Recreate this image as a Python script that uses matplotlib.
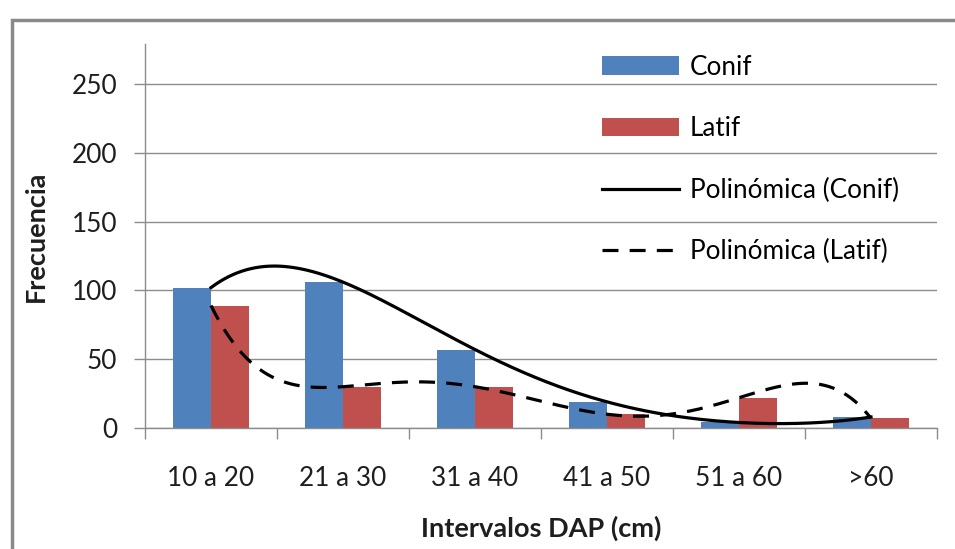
import matplotlib

matplotlib.use("Agg")
import matplotlib.pyplot as plt
import numpy as np
from matplotlib.patches import Rectangle

plt.rcParams["font.family"] = ["Lato", "DejaVu Sans"]

# Frequencies per DBH class.
categories = ["10 a 20", "21 a 30", "31 a 40", "41 a 50", "51 a 60", ">60"]
conif = [102, 106, 57, 19, 4, 8]
latif = [89, 30, 30, 10, 22, 7]

BLUE = "#4F81BD"
RED = "#C0504D"
GRID = "#8C8C8C"
INK = "#1E1E1E"
FS = 18.8

W, H = 955, 549
fig = plt.figure(figsize=(W / 100, H / 100), dpi=100)

# plot area in pixel terms: x 145..937, y 44..428
ax = fig.add_axes([145 / W, (H - 428) / H, (937 - 145) / W, (428 - 44) / H])

x = np.arange(1, len(categories) + 1)
bw = 0.285
b1 = ax.bar(x - bw / 2, conif, bw, color=BLUE, label="Conif", zorder=2)
b2 = ax.bar(x + bw / 2, latif, bw, color=RED, label="Latif", zorder=2)

# Excel's polynomial trendlines (order 5, so they run through every point)
xs = np.linspace(1, len(categories), 300)
fit_c = np.polyval(np.polyfit(x, conif, 5), xs)
fit_l = np.polyval(np.polyfit(x, latif, 5), xs)
l1, = ax.plot(xs, fit_c, color="black", lw=2.3, zorder=3)
l2, = ax.plot(xs, fit_l, color="black", lw=2.3, dashes=(5, 3.5), zorder=3)

ax.set_xlim(0.5, len(categories) + 0.5)
ax.set_ylim(0, 279)
ax.set_yticks(range(0, 251, 50))
ax.set_xticks(x)
ax.set_xticklabels(categories)
ax.set_xticks(np.arange(0.5, len(categories) + 1), minor=True)
ax.tick_params(axis="x", which="major", length=0, pad=27, labelsize=FS,
               colors=INK)
ax.tick_params(axis="x", which="minor", length=8, width=1, color=GRID)
ax.tick_params(axis="y", length=8, width=1, color=GRID, pad=12,
               labelsize=FS, labelcolor=INK)

ax.grid(axis="y", color=GRID, lw=1, zorder=0)
ax.set_axisbelow(True)
for side in ("top", "right"):
    ax.spines[side].set_visible(False)
for side in ("left", "bottom"):
    ax.spines[side].set_color(GRID)
    ax.spines[side].set_linewidth(1)

ax.set_xlabel("Intervalos DAP (cm)", fontsize=FS + 0.7, fontweight="bold",
              labelpad=18, color=INK)
ax.set_ylabel("Frecuencia", fontsize=FS + 0.7, fontweight="bold",
              labelpad=17, color=INK)

ax.legend([b1, b2, l1, l2],
          ["Conif", "Latif", "Polinómica (Conif)", "Polinómica (Latif)"],
          loc="upper left", bbox_to_anchor=((584 - 145) / (937 - 145), 1.02),
          frameon=False, fontsize=FS, handlelength=2.95, labelspacing=1.4,
          handletextpad=0.4, borderaxespad=0.3)

# outer chart border (cropped on the right and bottom in the reference)
fig.patches.append(Rectangle((12 / W, -0.1), 1.1, (H - 20) / H + 0.1,
                             transform=fig.transFigure, fill=False,
                             edgecolor="#8A8A8A", lw=2.5))

fig.savefig("out.png", dpi=100)
